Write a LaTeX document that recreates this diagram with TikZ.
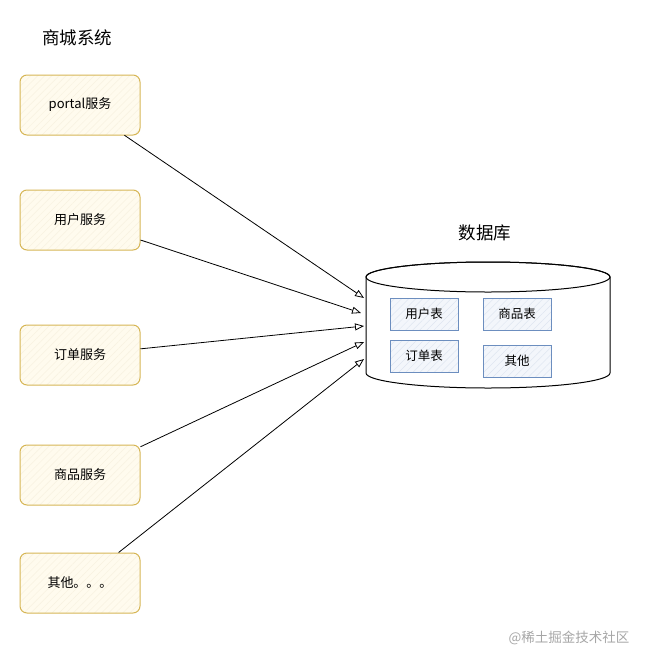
\documentclass[tikz,border=0pt]{standalone}
\usepackage{fontspec}
\setmainfont{Noto Sans CJK SC}
\usetikzlibrary{positioning,arrows.meta,patterns.meta}
\definecolor{svcline}{HTML}{D6B656}
\definecolor{svcfill}{HTML}{FFFBEE}
\definecolor{tblline}{HTML}{6C8EBF}
\definecolor{tblfill}{HTML}{F3F6FB}

\begin{document}
\begin{tikzpicture}[x=1pt,y=-1pt,on grid,
  svc/.style={preaction={fill=svcfill},draw=svcline,rounded corners=7pt,line width=1pt,
    minimum width=120pt,minimum height=60pt,font=\fontsize{13}{15}\selectfont,
    pattern={Lines[angle=45,distance=5pt,line width=0.5pt]},pattern color=svcline!18},
  tbl/.style={preaction={fill=tblfill},draw=tblline,minimum width=68pt,minimum height=32pt,line width=1pt,
    font=\fontsize{12.5}{14}\selectfont,
    pattern={Lines[angle=45,distance=5pt,line width=0.5pt]},pattern color=tblline!22},
  link/.style={-{Triangle[open,length=9pt,width=7pt]},line width=0.8pt}]
   \useasboundingbox (0,0) rectangle (648,665);
   % services
   \node[font=\fontsize{17.5}{20}\selectfont] (shop) at (77,38) {商城系统};
   \node[svc] (portal) at (80,105) {portal服务};
   \node[svc] (user)  [below=115pt of portal] {用户服务};
   \node[svc] (order) [below=135pt of user] {订单服务};
   \node[svc] (goods) [below=120pt of order] {商品服务};
   \node[svc] (other) [below=108pt of goods] {其他。。。};
   % database
   \draw[line width=1pt,fill=white] (366,277) -- (366,373)
     arc[start angle=180,end angle=0,x radius=122,y radius=15]
     -- (610,277) arc[start angle=0,end angle=-180,x radius=122,y radius=15];
   \draw[line width=1pt] (488,277) ellipse[x radius=122,y radius=15];
   \node[font=\fontsize{17.5}{20}\selectfont] (db) at (485,233) {数据库};
   \node[tbl] (usertbl) at (424,314) {用户表};
   \node[tbl] (goodstbl) [right=93pt of usertbl] {商品表};
   \node[tbl] (ordertbl) [below=42pt of usertbl] {订单表};
   \node[tbl] (othertbl) at (517,361) {其他};
   \coordinate (in1) at (364,298);
   \coordinate (in2) at (361,313);
   \coordinate (in3) at (364,326);
   \coordinate (in4) at (364,342);
   \coordinate (in5) at (364,359);
   \path[link]
    (portal) edge (in1)
    (user)   edge (in2)
    (order)  edge (in3)
    (goods)  edge (in4)
    (other)  edge (in5);
   \node[text=black!35,font=\fontsize{13.5}{15}\selectfont] (mark) at (569,638) {@稀土掘金技术社区};
\end{tikzpicture}
\end{document}
